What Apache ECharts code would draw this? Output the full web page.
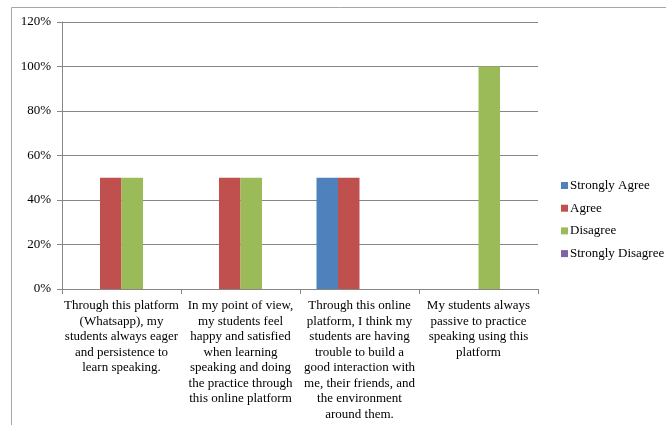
<!DOCTYPE html>
<html>
<head>
<meta charset="utf-8">
<script src="https://cdn.jsdelivr.net/npm/echarts@6/dist/echarts.min.js"></script>
<style>
  html, body { margin: 0; padding: 0; background: #ffffff; }
  #chart { width: 666px; height: 425px; }
</style>
</head>
<body>
<div id="chart"></div>
<script>
// Survey statements (category axis), wrapped as they appear under each group
const categories = [
  'Through this platform\n(Whatsapp), my\nstudents always eager\nand persistence to\nlearn speaking.',
  'In my point of view,\nmy students feel\nhappy and satisfied\nwhen learning\nspeaking and doing\nthe practice through\nthis online platform',
  'Through this online\nplatform, I think my\nstudents are having\ntrouble to build a\ngood interaction with\nme, their friends, and\nthe environment\naround them.',
  'My students always\npassive to practice\nspeaking using this\nplatform'
];

// Percentage of responses per answer option
const stronglyAgree = [0, 0, 50, 0];
const agree = [50, 50, 50, 0];
const disagree = [50, 50, 0, 100];
const stronglyDisagree = [0, 0, 0, 0];

const seriesNames = ['Strongly Agree', 'Agree', 'Disagree', 'Strongly Disagree'];
const seriesColors = ['#4F81BD', '#C0504D', '#9BBB59', '#8064A2'];
const seriesValues = [stronglyAgree, agree, disagree, stronglyDisagree];

const serif = '"Liberation Serif", "Times New Roman", serif';

const chart = echarts.init(document.getElementById('chart'), null, { renderer: 'canvas' });

chart.setOption({
  animation: false,
  backgroundColor: '#ffffff',
  graphic: [{
    type: 'rect',
    shape: { x: 11.5, y: 7.5, width: 700, height: 500 },
    style: { fill: 'none', stroke: '#a6a6a6', lineWidth: 1 },
    silent: true
  }],
  grid: { left: 62, right: 128, top: 22, bottom: 136, containLabel: false },
  legend: {
    orient: 'vertical',
    left: 556,
    top: 174,
    itemWidth: 7,
    itemHeight: 7,
    itemGap: 9.7,
    icon: 'rect',
    textStyle: { fontFamily: serif, fontSize: 13, color: '#000000', padding: [0, 0, 0, -3] },
    data: seriesNames
  },
  xAxis: {
    type: 'category',
    data: categories,
    boundaryGap: true,
    axisLine: { lineStyle: { color: '#868686' } },
    axisTick: { show: true, alignWithLabel: false, length: 5, lineStyle: { color: '#868686' } },
    axisLabel: {
      interval: 0,
      fontFamily: serif,
      fontSize: 13,
      lineHeight: 15.5,
      color: '#000000',
      margin: 9,
      align: 'center',
      verticalAlign: 'top'
    }
  },
  yAxis: {
    type: 'value',
    min: 0,
    max: 120,
    interval: 20,
    axisLine: { show: true, lineStyle: { color: '#868686' } },
    axisTick: { show: true, length: 5, lineStyle: { color: '#868686' } },
    splitLine: { show: true, lineStyle: { color: '#868686', width: 1 } },
    axisLabel: {
      formatter: '{value}%',
      fontFamily: serif,
      fontSize: 13,
      color: '#000000',
      margin: 11
    }
  },
  series: seriesNames.map((name, i) => ({
    name: name,
    type: 'bar',
    data: seriesValues[i],
    barWidth: 21.5,
    barGap: '0%',
    itemStyle: { color: seriesColors[i] }
  }))
});
</script>
</body>
</html>
